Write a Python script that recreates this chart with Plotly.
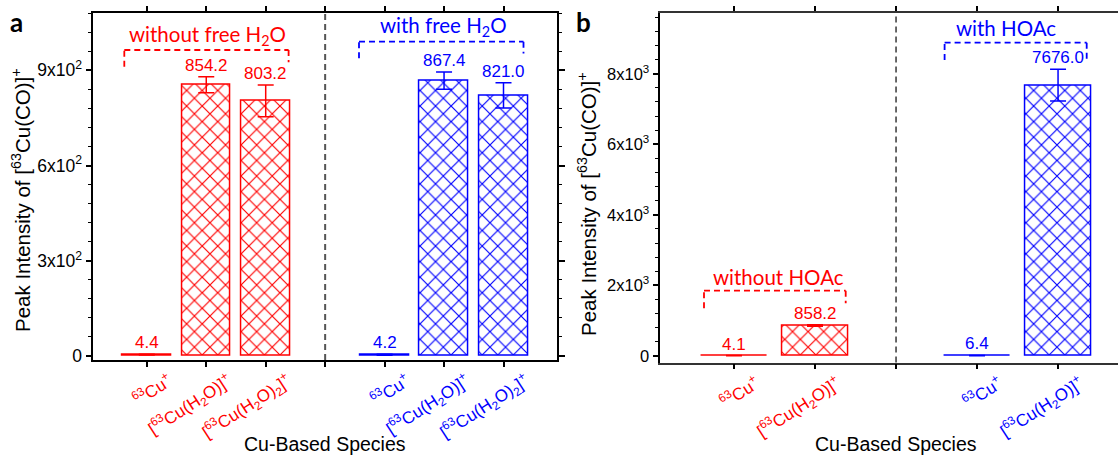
import plotly.graph_objects as go

W, H = 1118, 455

# ---------------- data ----------------
species_a = [
    "<sup>63</sup>Cu<sup>+</sup>",
    "[<sup>63</sup>Cu(H<sub>2</sub>O)]<sup>+</sup>",
    "[<sup>63</sup>Cu(H<sub>2</sub>O)<sub>2</sub>]<sup>+</sup>",
]
without_h2o = [4.4, 854.2, 803.2]
without_h2o_err = [1.5, 25, 50]
with_h2o = [4.2, 867.4, 821.0]
with_h2o_err = [1.5, 27, 40]

species_b = [
    "<sup>63</sup>Cu<sup>+</sup>",
    "[<sup>63</sup>Cu(H<sub>2</sub>O)]<sup>+</sup>",
]
without_hoac = [4.1, 858.2]
without_hoac_err = [1.5, 20]
with_hoac = [6.4, 7676.0]
with_hoac_err = [3, 450]

yticks_a = [0, 300, 600, 900]
yticktext_a = ["0", "3x10<sup>2</sup>", "6x10<sup>2</sup>", "9x10<sup>2</sup>"]
yticks_b = [0, 2000, 4000, 6000, 8000]
yticktext_b = ["0", "2x10<sup>3</sup>", "4x10<sup>3</sup>", "6x10<sup>3</sup>", "8x10<sup>3</sup>"]

group_labels_a = ["without free H<sub>2</sub>O", "with free H<sub>2</sub>O"]
group_labels_b = ["without HOAc", "with HOAc"]
ytitle = "Peak Intensity of [<sup>63</sup>Cu(CO)]<sup>+</sup>"
xtitle = "Cu-Based Species"

RED = "#ff0000"
BLUE = "#0000ff"
ARIAL = "Liberation Sans"
CALIBRI = "Lato"


def px(x):
    return x / W


def py(y):
    return 1 - y / H


# positions: group 1, divider, group 2
xa_red = list(range(len(without_h2o)))
xa_div = len(without_h2o)
xa_blue = [xa_div + 1 + i for i in range(len(with_h2o))]
xb_red = list(range(len(without_hoac)))
xb_div = len(without_hoac)
xb_blue = [xb_div + 1 + i for i in range(len(with_hoac))]


def bars(xs, ys, errs, color, xa, ya):
    return go.Bar(
        x=xs, y=ys, width=0.82, xaxis=xa, yaxis=ya,
        marker=dict(
            color=color,
            line=dict(color=color, width=1.5),
            pattern=dict(shape="x", size=11, solidity=0.2, fgcolor=color,
                         bgcolor="white", fillmode="replace"),
        ),
        error_y=dict(type="data", array=errs, color=color, thickness=1.5, width=8),
        showlegend=False, hoverinfo="skip",
    )


fig = go.Figure()
fig.add_trace(bars(xa_red, without_h2o, without_h2o_err, RED, "x", "y"))
fig.add_trace(bars(xa_blue, with_h2o, with_h2o_err, BLUE, "x", "y"))
fig.add_trace(bars(xb_red, without_hoac, without_hoac_err, RED, "x2", "y2"))
fig.add_trace(bars(xb_blue, with_hoac, with_hoac_err, BLUE, "x2", "y2"))


def colored(labels, color):
    return [f"<span style='color:{color}'>{t}</span>" for t in labels]


common_x = dict(
    showline=True, linecolor="black", linewidth=1.5, mirror="allticks",
    ticks="outside", ticklen=5, tickwidth=1.5, tickcolor="black",
    showgrid=False, zeroline=False, tickangle=-33,
    tickfont=dict(family=ARIAL, size=17, color="black"),
    automargin=False, ticklabelshift=22, ticklabelstandoff=-2,
)
common_y = dict(
    showline=True, linecolor="black", linewidth=1.5,
    ticks="outside", ticklen=6, tickwidth=1.5, tickcolor="black",
    showgrid=False, zeroline=False,
    automargin=False,
)

fig.update_layout(
    width=W, height=H,
    margin=dict(l=0, r=0, t=0, b=0),
    paper_bgcolor="white", plot_bgcolor="white",
    font=dict(family=ARIAL),
    bargap=0,
    xaxis=dict(common_x, domain=[px(93.3), px(557)], range=[-0.9, 6.9],
               tickvals=xa_red + [xa_div] + xa_blue,
               ticktext=colored(species_a, RED) + [""] + colored(species_a, BLUE),
               anchor="y"),
    yaxis=dict(common_y, domain=[py(360), py(12.7)], range=[-12.6, 1081.3],
               tickvals=yticks_a, ticktext=yticktext_a, mirror="allticks",
               tickfont=dict(family=ARIAL, size=17.5, color="black"),
               minor=dict(dtick=60, tick0=0, ticklen=3.5, tickwidth=1.2,
                          ticks="outside", tickcolor="black"),
               anchor="x"),
    xaxis2=dict(common_x, domain=[px(660.3), 1.0], range=[-0.91, 4.74],
                tickvals=xb_red + [xb_div] + xb_blue,
                ticktext=colored(species_b, RED) + [""] + colored(species_b, BLUE),
                anchor="y2", linecolor="#333333"),
    yaxis2=dict(common_y, domain=[py(362.5), py(12.7)], range=[-190, 9733],
                tickvals=yticks_b, ticktext=yticktext_b, mirror=False,
                tickfont=dict(family=ARIAL, size=16.5, color="black"),
                minor=dict(dtick=400, tick0=0, ticklen=3.5, tickwidth=1.2,
                           ticks="outside", tickcolor="black"),
                anchor="x2"),
)

shapes = []
# dividers
shapes.append(dict(type="line", xref="x", yref="y domain", x0=xa_div, x1=xa_div, y0=0, y1=1,
                   line=dict(color="#555555", width=2, dash="6px,4px")))
shapes.append(dict(type="line", xref="x2", yref="y2 domain", x0=xb_div, x1=xb_div, y0=0, y1=1,
                   line=dict(color="#444444", width=1.6, dash="6px,4px")))


def bracket(xl, xr, ytop, ybl, ybr, color):
    out = []
    for (x0, y0, x1, y1) in [(xl, ybl, xl, ytop), (xl, ytop, xr, ytop), (xr, ytop, xr, ybr)]:
        out.append(dict(type="line", xref="paper", yref="paper",
                        x0=px(x0), y0=py(y0), x1=px(x1), y1=py(y1),
                        line=dict(color=color, width=1.8, dash="6px,4px")))
    return out


shapes += bracket(124.3, 288.6, 50, 66.7, 62.3, RED)
shapes += bracket(359, 523.5, 41.7, 58.3, 53.5, BLUE)
shapes += bracket(704, 845.7, 290.7, 308.3, 303.3, RED)
shapes += bracket(944.6, 1086.7, 42.7, 60, 60, BLUE)
fig.update_layout(shapes=shapes)

ann = []
# value labels
for xs, ys, es, col, xr, yr in [
    (xa_red, without_h2o, without_h2o_err, RED, "x", "y"),
    (xa_blue, with_h2o, with_h2o_err, BLUE, "x", "y"),
    (xb_red, without_hoac, without_hoac_err, RED, "x2", "y2"),
    (xb_blue, with_hoac, with_hoac_err, BLUE, "x2", "y2"),
]:
    for x, v, e in zip(xs, ys, es):
        ann.append(dict(x=x, y=v + e, xref=xr, yref=yr, text=f"{v:.1f}",
                        showarrow=False, yanchor="bottom", yshift=0,
                        font=dict(family=ARIAL, size=17, color=col)))

# group labels
for txt, cx, cy, col in [
    (group_labels_a[0], 207, 35.5, RED),
    (group_labels_a[1], 443, 26.7, BLUE),
    (group_labels_b[0], 778, 276.7, RED),
    (group_labels_b[1], 1006, 28.3, BLUE),
]:
    ann.append(dict(x=px(cx), y=py(cy), xref="paper", yref="paper", text=txt,
                    showarrow=False, xanchor="center", yanchor="middle",
                    font=dict(family=CALIBRI, size=20.5, color=col)))

# axis titles
for cx, cy in [(21, 200), (587, 204)]:
    ann.append(dict(x=px(cx), y=py(cy), xref="paper", yref="paper", text=ytitle,
                    textangle=-90, showarrow=False, xanchor="center", yanchor="middle",
                    font=dict(family=ARIAL, size=20.5, color="black")))
for cx in [325, 896]:
    ann.append(dict(x=px(cx), y=py(444), xref="paper", yref="paper", text=xtitle,
                    showarrow=False, xanchor="center", yanchor="middle",
                    font=dict(family=ARIAL, size=19.5, color="black")))

# panel letters
for txt, cx in [("a", 16), ("b", 583)]:
    ann.append(dict(x=px(cx), y=py(22), xref="paper", yref="paper", text=f"<b>{txt}</b>",
                    showarrow=False, xanchor="center", yanchor="middle",
                    font=dict(family=CALIBRI, size=26, color="black")))

fig.update_layout(annotations=ann)

fig.write_html("out.html")
